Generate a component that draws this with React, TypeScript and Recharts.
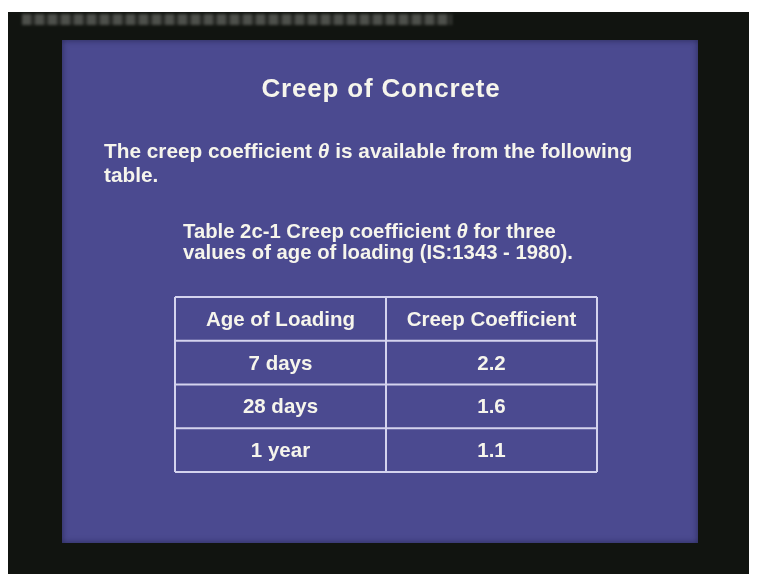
import { ScatterChart, Scatter, XAxis, YAxis, CartesianGrid } from 'recharts';

// slide text
const slideTitle = 'Creep of Concrete';
const introLines = ['The creep coefficient | is available from the following', 'table.'];
const captionLines = ['Table 2c-1 Creep coefficient | for three', 'values of age of loading (IS:1343 - 1980).'];

// table data
const columnHeads = ['Age of Loading', 'Creep Coefficient'];
const ageOfLoading = ['7 days', '28 days', '1 year'];
const creepCoefficient = [2.2, 1.6, 1.1];

const cells = [
  ...columnHeads.map((label, c) => ({ x: c + 0.5, y: 0.5, label })),
  ...ageOfLoading.flatMap((age, r) => [
    { x: 0.5, y: r + 1.5, label: age },
    { x: 1.5, y: r + 1.5, label: creepCoefficient[r].toFixed(1) },
  ]),
];

const FONT = '"Liberation Sans", Arial, sans-serif';
const INK = '#f6f5ec';

// theta in the slide is set in italic
function withTheta(line: string) {
  const parts = line.split('|');
  if (parts.length === 1) return line;
  return [
    <tspan key="a">{parts[0]}</tspan>,
    <tspan key="t" fontStyle="italic">θ</tspan>,
    <tspan key="b">{parts[1]}</tspan>,
  ];
}

const CellText = (props: any) => {
  const { cx, cy, payload } = props;
  return (
    <text x={cx} y={cy} dy={7} textAnchor="middle" fill={INK} fontFamily={FONT} fontWeight={700} fontSize={20.5}>
      {payload.label}
    </text>
  );
};

export default function App() {
  return (
    <div style={{ paddingTop: 4 }}>
      <div style={{ position: 'relative', width: 749, height: 562, background: '#111410', overflow: 'hidden', filter: 'blur(0.4px)' }}>
        {/* blurred caption strip above the slide */}
        <div
          style={{
            position: 'absolute', left: 14, top: 2, width: 430, height: 11,
            background: 'repeating-linear-gradient(90deg, #5d5f5a 0 9px, #2a2c28 9px 13px)',
            filter: 'blur(1.5px)', opacity: 0.8,
          }}
        />
        {/* slide */}
        <div
          style={{
            position: 'absolute', left: 54, top: 28, width: 636, height: 503,
            background: '#4b4a90',
            boxShadow: 'inset 0 0 6px rgba(20,20,50,0.6)',
          }}
        />
        <svg width={749} height={562} style={{ position: 'absolute', left: 0, top: 0 }}>
          <text x={373} y={85} textAnchor="middle" fill={INK} fontFamily={FONT} fontWeight={700} fontSize={26} letterSpacing={0.8}>
            {slideTitle}
          </text>
          {introLines.map((line, i) => (
            <text key={i} x={96} y={146 + i * 24} fill={INK} fontFamily={FONT} fontWeight={700} fontSize={20.8}>
              {withTheta(line)}
            </text>
          ))}
          {captionLines.map((line, i) => (
            <text key={i} x={175} y={226 + i * 21} fill={INK} fontFamily={FONT} fontWeight={700} fontSize={20.3}>
              {withTheta(line)}
            </text>
          ))}
        </svg>
        <div style={{ position: 'absolute', left: 0, top: 0 }}>
          <ScatterChart width={749} height={562} margin={{ top: 285, right: 160, bottom: 102, left: 167 }}>
            <CartesianGrid stroke="#d4d3ee" strokeWidth={2} />
            <XAxis type="number" dataKey="x" domain={[0, 2]} ticks={[0, 1, 2]} hide />
            <YAxis type="number" dataKey="y" domain={[0, 4]} ticks={[0, 1, 2, 3, 4]} reversed hide />
            <Scatter data={cells} shape={CellText} isAnimationActive={false} />
          </ScatterChart>
        </div>
      </div>
    </div>
  );
}
